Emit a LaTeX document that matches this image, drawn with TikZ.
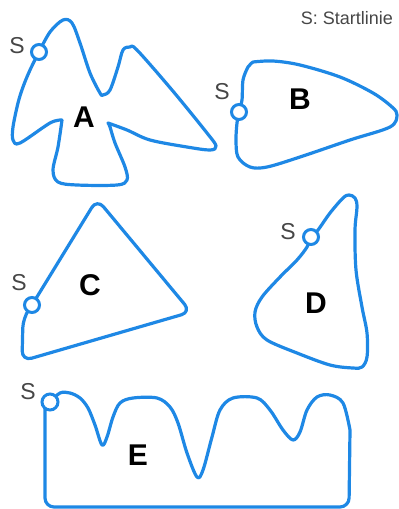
\documentclass[tikz,border=0pt]{standalone}
\usepackage{fontspec}
\setmainfont{Liberation Sans}
\definecolor{lineblue}{RGB}{30,136,229}
\definecolor{sgray}{RGB}{70,70,70}
\tikzset{
  outline/.style={draw=lineblue, line width=3.2pt, line join=round, line cap=round},
  startring/.style={draw=lineblue, line width=3pt, fill=white},
  shapelabel/.style={font=\fontsize{30}{34}\selectfont\bfseries, text=black, inner sep=0pt},
  slabel/.style={font=\fontsize{23}{26}\selectfont, text=sgray, inner sep=0pt},
}
\begin{document}
\begin{tikzpicture}[x=1pt,y=-1pt]
\useasboundingbox (0,0) rectangle (399,509);
% ---------- A ----------
\draw[outline] plot[smooth, tension=0.55] coordinates {(39,52) (50,32) (63,20) (72,23) (80,43) (90,73) (100,93) (103,95) (110,90) (118,67) (123,50) (130,47) (137,50) (172,90) (207,133) (216,146) (210,150) (187,147) (150,140) (127,130) (108,123)}
  plot[smooth, tension=0.55] coordinates {(108,123) (110,127) (115,143) (125,167) (127,180) (117,185) (77,185) (58,182) (53,170) (58,147) (62,120)}
  plot[smooth, tension=0.55] coordinates {(62,120) (50,123) (20,143) (13,140) (13,127) (18,103) (23,87) (30,70) (39,52)};
\draw[startring] (39,52) circle (7.5);
% ---------- B ----------
\draw[outline] plot[smooth, tension=0.5] coordinates {(239,112) (242,100) (243,80) (248,67) (253,62)}
  plot[smooth, tension=0.55] coordinates {(253,62) (273,61) (300,65) (340,77) (373,93) (392,107) (397,115) (390,127) (350,140) (300,157) (267,167) (250,167) (238,157) (236,140) (237,123) (239,112)};
\draw[startring] (239,112) circle (7.5);
% ---------- C ----------
\draw[outline, rounded corners=10] (32,305) -- (97,199) -- (191,312) -- (22,361) -- (23,318) -- (32,305);
\draw[startring] (32,305) circle (7.5);
% ---------- D ----------
\draw[outline] plot[smooth, tension=0.55] coordinates {(311,237) (318,230) (330,213) (343,198) (349,195) (355,198) (357,207) (355,230) (356,270) (362,307) (367,333) (367,357) (362,367) (353,368) (330,365) (297,353) (267,340) (257,327) (255,312) (262,297) (280,277) (297,260) (307,247) (311,237)};
\draw[startring] (311,237) circle (7.5);
% ---------- E ----------
\draw[outline] plot[smooth, tension=0.55] coordinates {(50,402) (60,393) (70,393) (80,398) (88,408) (95,425) (102,445) (107,437) (113,417) (120,403) (133,398) (157,398) (170,407) (178,423) (187,453) (197,477) (203,470) (212,437) (220,410) (233,398) (257,398) (270,410) (283,430) (293,440) (300,432) (307,410) (317,397) (330,395) (343,403) (350,430)}
  [rounded corners=9] -- (349,507) -- (45,507) -- (45,402);
\draw[startring] (50,402) circle (8);
% ---------- labels ----------
\node[shapelabel] (labA) at (84,117) {A};
\node[shapelabel] (labB) at (300,99) {B};
\node[shapelabel] (labC) at (90,285) {C};
\node[shapelabel] (labD) at (316,303) {D};
\node[shapelabel] (labE) at (138,455) {E};
\node[slabel] (sA) at (17,46) {S};
\node[slabel] (sB) at (222,92) {S};
\node[slabel] (sC) at (19,283) {S};
\node[slabel] (sD) at (288,232) {S};
\node[slabel] (sE) at (28,392) {S};
\node[font=\fontsize{18}{21}\selectfont, text=sgray, inner sep=0pt, anchor=east] (legend) at (393,18) {S: Startlinie};
\end{tikzpicture}
\end{document}
